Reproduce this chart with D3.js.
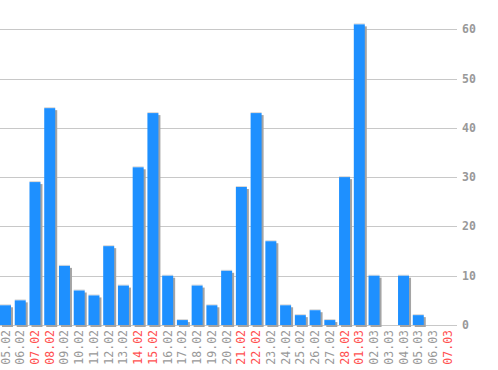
<!DOCTYPE html>
<html>
<head>
<meta charset="utf-8">
<script src="https://cdn.jsdelivr.net/npm/d3@7"></script>
<style>
   body { margin: 0; background: #fff; }
   text { font-family: "DejaVu Sans Mono", monospace; font-size: 11.5px; }
</style>
</head>
<body>
<svg id="chart" width="498" height="370"></svg>
<script>
const dias = ["05.02", "06.02", "07.02", "08.02", "09.02", "10.02", "11.02", "12.02", "13.02", "14.02",
   "15.02", "16.02", "17.02", "18.02", "19.02", "20.02", "21.02", "22.02", "23.02", "24.02",
   "25.02", "26.02", "27.02", "28.02", "01.03", "02.03", "03.03", "04.03", "05.03", "06.03", "07.03"];
const valores = [4, 5, 29, 44, 12, 7, 6, 16, 8, 32, 43, 10, 1, 8, 4, 11, 28, 43, 17, 4, 2, 3, 1, 30, 61, 10, 0, 10, 2, 0, 0];
const fimDeSemana = ["07.02", "08.02", "14.02", "15.02", "21.02", "22.02", "28.02", "01.03", "07.03"];
const ticks = [0, 10, 20, 30, 40, 50, 60];

function grafico() {
   let svg = d3.select("#chart");
   const x = d3.scaleBand().domain(dias).range([0, 457]).padding(0);
   const y = d3.scaleLinear().domain([0, 60]).range([325, 29.3]);
   const w = 11;

   // linhas de grade
   ticks.forEach(t => {
      svg.append("line")
         .attr("x1", 0).attr("x2", 457)
         .attr("y1", Math.round(y(t)) + 0.5).attr("y2", Math.round(y(t)) + 0.5)
         .attr("stroke", "#c8c8c8");
      svg.append("text")
         .attr("x", 462)
         .attr("y", y(t) + 4)
         .attr("fill", "#999")
         .attr("font-weight", "bold")
         .text(t);
   });

   // sombra
   dias.forEach((d, i) => {
      if (valores[i] == 0) return;
      svg.append("rect")
         .attr("x", x(d) + 2)
         .attr("y", y(valores[i]) + 2)
         .attr("width", w)
         .attr("height", y(0) - y(valores[i]))
         .attr("fill", "#a4a4a4");
   });

   dias.forEach((d, i) => {
      if (valores[i] == 0) return;
      svg.append("rect")
         .attr("x", x(d))
         .attr("y", y(valores[i]) - 1)
         .attr("width", w)
         .attr("height", 1)
         .attr("fill", "#d8d8d8");
      svg.append("rect")
         .attr("x", x(d))
         .attr("y", y(valores[i]))
         .attr("width", w)
         .attr("height", y(0) - y(valores[i]))
         .attr("fill", "#1e90ff");
   });

   // rótulos
   dias.forEach(d => {
      const cx = x(d) + w / 2 + 4;
      svg.append("text")
         .attr("transform", `translate(${cx},330) rotate(-90)`)
         .attr("text-anchor", "end")
         .attr("fill", fimDeSemana.includes(d) ? "#ff5050" : "#999")
         .text(d);
   });
}

grafico();
</script>
</body>
</html>
